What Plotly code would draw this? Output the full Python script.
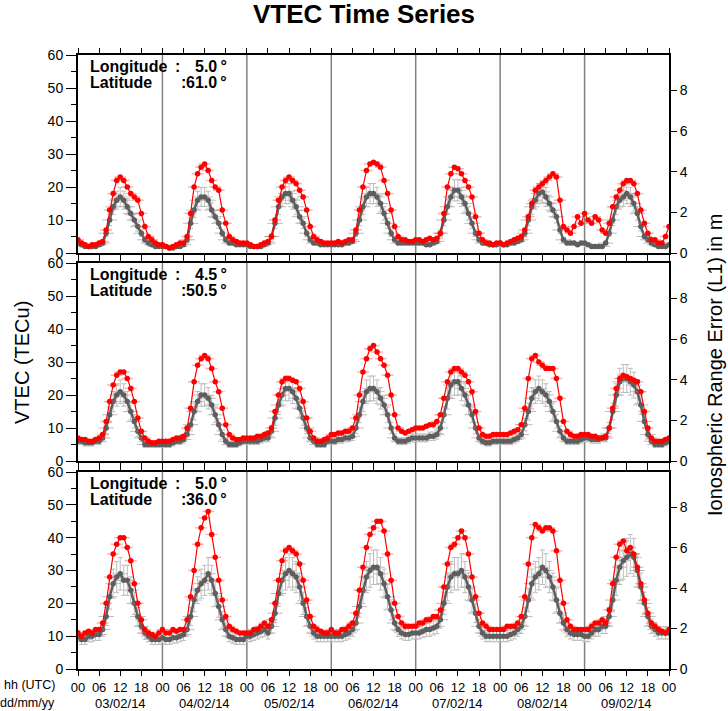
import plotly.graph_objects as go

# ---------------- data ----------------
title_text = "VTEC Time Series"
day_labels = ["03/02/14", "04/02/14", "05/02/14", "06/02/14", "07/02/14", "08/02/14", "09/02/14"]
hour_labels = ["00", "06", "12", "18"]
longitudes = [5.0, 4.5, 5.0]
latitudes = [61.0, 50.5, 36.0]
tecu_to_m = 0.1624          # L1 ionospheric range error (m) per TECu
vtec_range = [0, 60]
range_err_ticks = [0, 2, 4, 6, 8]
day_boundaries = [24, 48, 72, 96, 120, 144]

hours = list(range(0, 169))   # hourly samples, 03/02/14 00 UTC -> 10/02/14 00 UTC

# panel 1 (lat 61.0)
vtec_61 = [
    4, 3, 2.5, 2, 2.5, 2.5, 3, 3.5, 7, 13, 18, 22, 23, 22, 20, 18, 17, 16, 12, 8, 5, 4, 3, 2.5,
    2.5, 2, 1.5, 2, 2.5, 3, 3, 5, 12, 20, 24, 26, 27, 25, 22, 20, 19, 13, 9, 5, 4, 3.5, 3, 3,
    3, 2.5, 2, 2, 2.5, 3, 3.5, 5, 10, 16, 20, 22, 23, 22, 21, 19, 17, 13, 8, 5, 4, 3.5, 3, 3,
    3, 3, 3.5, 3, 3.5, 4, 4, 7, 13, 20, 25, 27, 27.5, 27, 26, 22, 18, 13, 8, 5, 4, 4, 3.5, 3.5,
    4, 4, 3.5, 4, 4.5, 4, 4.5, 6, 12, 20, 24, 26, 25.5, 24, 22, 20, 17, 11, 6, 4, 3, 3, 2.5, 3,
    3, 2.5, 3, 3.5, 4, 4.5, 5, 7, 11, 15, 19, 20, 21, 22, 23, 24, 23, 16, 8, 7, 6, 8, 11, 9,
    12, 10, 9, 11, 10, 7, 6, 9, 14, 17, 19, 21, 22, 22, 21, 18, 13, 9, 6, 4, 4, 3, 3, 5, 8,
]
median_61 = [
    3, 2.5, 2, 2, 2, 2, 2.5, 3, 6, 10, 14, 16, 17, 16, 14, 12, 10, 8, 6, 4, 3, 2.5, 2, 2,
    2, 2, 1.5, 1.5, 2, 2, 2.5, 4, 9, 13, 16, 17, 17, 16, 13, 11, 9, 6, 4, 3, 3, 2.5, 2.5, 2.5,
    2.5, 2, 2, 2, 2, 2.5, 3, 5, 9, 14, 17, 18, 18, 16, 14, 11, 9, 6, 4, 3, 3, 2.5, 2.5, 2.5,
    2.5, 2.5, 2.5, 2.5, 3, 3, 3.5, 6, 10, 14, 17, 18, 18, 17, 15, 12, 9, 6, 4, 3, 3, 3, 3, 3,
    3, 3, 3, 2.5, 2.5, 3, 3.5, 6, 10, 14, 17, 19, 19, 17, 15, 12, 9, 6, 4, 3, 3, 2.5, 2.5, 2.5,
    3, 2.5, 2.5, 3, 3, 3.5, 4, 6, 10, 14, 16, 18, 18.5, 17, 15, 13, 11, 7, 4, 3, 3, 3, 2.5, 3,
    3, 2.5, 2, 2, 2, 2, 3, 6, 10, 14, 16, 17, 18, 17, 15, 12, 8, 5, 4, 3, 2.5, 2, 2, 2, 2.5,
]

# panel 2 (lat 50.5)
vtec_50 = [
    7, 6.5, 6.5, 6, 6, 6.5, 7, 8, 12, 18, 23, 26, 27, 27, 25, 22, 18, 13, 9, 7, 6, 5.5, 5.5, 6,
    6, 6, 6, 6.5, 7, 7, 7.5, 10, 16, 24, 29, 31, 32, 31, 28, 24, 21, 16, 11, 8, 7, 6.5, 6.5, 7,
    7, 7, 7, 7.5, 7.5, 8, 8.5, 10, 15, 20, 24, 25, 25, 24.5, 24, 22, 18, 13, 9, 7, 6, 6, 6.5, 7,
    8, 8, 8.5, 8.5, 9, 9, 10, 13, 20, 27, 31, 34, 35, 33, 31, 29, 26, 20, 14, 10, 9, 8.5, 9, 9.5,
    10, 10, 10, 10.5, 11, 11, 12, 14, 19, 24, 27, 28, 28, 27, 26, 24, 21, 15, 10, 8, 7.5, 7.5, 8, 8,
    8, 8, 8, 8.5, 9, 9.5, 11, 16, 25, 31, 32, 30, 29, 28, 28, 28, 25, 19, 12, 9, 8, 7.5, 7.5, 8,
    8, 8, 7.5, 7.5, 7, 7, 7.5, 10, 16, 22, 25, 26, 25.5, 25, 24.5, 24, 21, 15, 10, 7, 6, 6, 6, 6.5, 7,
]
median_50 = [
    6, 6, 5.5, 5.5, 5.5, 6, 6, 7, 10, 14, 18, 20, 21, 20, 18, 15, 12, 9, 7, 5, 5, 5, 5, 5,
    5, 5, 5, 5.5, 6, 6, 6.5, 8, 11, 15, 18, 20, 20, 19, 17, 14, 11, 8, 6, 5, 5, 5, 5.5, 6,
    6, 6, 6, 6, 6.5, 7, 7, 9, 13, 17, 20, 22, 22, 21, 19, 16, 13, 10, 7, 6, 5, 5, 5, 6,
    6, 6, 6.5, 6.5, 7, 7, 7.5, 10, 14, 18, 21, 22, 22, 21, 19, 17, 14, 10, 7, 6, 6, 6, 6.5, 7,
    7, 7, 7, 7, 7.5, 7.5, 8, 10, 14, 19, 23, 24, 24, 22, 20, 17, 14, 10, 7, 6, 5.5, 5.5, 6, 6,
    6, 6, 6, 6, 6.5, 7, 8, 11, 15, 19, 21, 22, 21, 20, 18, 15, 12, 9, 7, 6, 6, 6, 6, 6.5,
    7, 7, 6.5, 6.5, 6.5, 7, 7, 10, 15, 20, 24, 25, 25, 24, 23, 21, 17, 12, 8, 6, 5, 5, 5, 5.5, 6,
]

# panel 3 (lat 36.0)
vtec_36 = [
    11, 10, 11, 11.5, 11, 12, 12, 14, 20, 28, 35, 38, 40, 40, 37, 33, 26, 20, 15, 12, 11, 10.5, 10, 11,
    12, 11, 11, 12, 11.5, 12, 12, 15, 22, 30, 38, 43, 46, 48, 41, 34, 27, 21, 16, 13, 12, 11.5, 11, 11,
    11, 11, 12, 12, 13, 14, 13, 15, 20, 27, 33, 36, 37, 36, 35, 32, 27, 21, 16, 13, 12, 11.5, 11, 11,
    12, 11, 11, 12, 12, 13, 14, 17, 24, 31, 37, 41, 43, 45, 45, 42, 35, 27, 20, 16, 14, 13, 13, 13,
    13, 14, 14, 15, 15, 16, 16, 18, 25, 32, 37, 38, 40, 42, 40, 35, 28, 22, 17, 14, 13, 12, 12, 12,
    12, 12, 13, 13, 13, 14, 16, 22, 32, 40, 44, 43, 42, 43, 43, 42, 36, 27, 20, 15, 13, 12, 12, 12,
    12, 12, 13, 14, 14, 15, 14, 18, 26, 34, 38, 39, 36, 37, 35, 31, 26, 21, 17, 14, 13, 12, 11.5, 11, 12,
]
median_36 = [
    10, 9, 9, 10, 10, 10.5, 10.5, 12, 16, 22, 26, 28, 29, 27, 27, 24, 20, 16, 13, 11, 10, 9, 9, 9,
    9.5, 9, 9, 9.5, 9.5, 10, 10.5, 12, 16, 21, 24, 26, 27, 29, 27, 23, 19, 15, 12, 10, 9.5, 9, 9, 9,
    10, 10, 10.5, 11, 11.5, 12, 11, 13, 17, 23, 27, 29, 30, 29, 28, 25, 20, 16, 13, 11, 10, 10, 10, 10,
    10, 10, 10, 10, 10.5, 11, 12, 14, 19, 24, 28, 30, 31, 31, 29, 26, 22, 18, 14, 12, 11, 10.5, 10.5, 11,
    11, 11, 11.5, 12, 12, 12.5, 13, 15, 20, 25, 28, 29, 29, 30, 28, 25, 21, 17, 13, 11, 10, 10, 10, 10,
    10, 10, 10, 10.5, 11, 12, 13, 16, 21, 26, 28, 29, 31, 30, 28, 25, 21, 17, 14, 12, 11, 10.5, 10.5, 10.5,
    10, 10, 11, 12, 12, 13, 13, 16, 21, 27, 31, 33, 34, 35, 34, 30, 25, 20, 16, 13, 12, 11, 11, 11, 11,
]

vtec_panels = [vtec_61, vtec_50, vtec_36]
median_panels = [median_61, median_50, median_36]

# ---------------- figure ----------------
FONT = "Liberation Sans, Arial, Helvetica, sans-serif"
W, H = 728, 711
L, R, T, B = 78, 59, 55, 42
plot_h = H - T - B  # 614
panel_px = [(55, 253), (263, 461), (472, 669)]
domains = [[(669 - b) / plot_h, (669 - t) / plot_h] for (t, b) in panel_px]

fig = go.Figure()
layout = dict(
    width=W, height=H, autosize=False,
    margin=dict(l=L, r=R, t=T, b=B, pad=0),
    paper_bgcolor="white", plot_bgcolor="white",
    font=dict(family=FONT, size=14, color="black"),
    showlegend=False,
    title=dict(text="<b>" + title_text + "</b>", x=0.5, xanchor="center",
               y=1 - 14 / H, yanchor="middle", yref="container",
               font=dict(family=FONT, size=26, color="black")),
)

tick_vals = list(range(0, 169, 6))
tick_text = [hour_labels[(v // 6) % 4] for v in tick_vals]

shapes = []
annotations = []

for i in range(3):
    n = i + 1
    xs = "" if n == 1 else str(n)
    xname, yname, yrname = "x" + xs, "y" + xs, "y" + str(n + 3)
    bottom = (i == 2)

    fig.add_trace(go.Scatter(
        x=hours, y=median_panels[i], xaxis=xname, yaxis=yname, mode="lines+markers",
        line=dict(color="#5e5e5e", width=2.5), marker=dict(size=5.5, color="#5e5e5e"),
        error_y=dict(type="percent", value=17, color="#bcbcbc", thickness=1, width=2.5),
        error_x=dict(type="constant", value=2.2, color="#bcbcbc", thickness=1, width=0),
        hoverinfo="skip"))
    fig.add_trace(go.Scatter(
        x=hours, y=vtec_panels[i], xaxis=xname, yaxis=yname, mode="lines+markers",
        line=dict(color="#ff0000", width=1.2), marker=dict(size=5.5, color="#ff0000"),
        error_x=dict(type="constant", value=1.7, color="rgba(255,80,80,0.45)", thickness=1.5, width=0),
        hoverinfo="skip"))
    fig.add_trace(go.Scatter(x=[None], y=[None], xaxis=xname, yaxis=yrname,
                             mode="markers", hoverinfo="skip"))

    layout["xaxis" + xs] = dict(
        domain=[0, 1], anchor=yname, range=[0, 168],
        tickmode="array", tickvals=tick_vals, ticktext=tick_text,
        showticklabels=bottom, ticks="outside", ticklen=5, tickwidth=1, tickcolor="black",
        showline=True, linecolor="black", linewidth=2, mirror="ticks",
        showgrid=False, zeroline=False, tickfont=dict(size=13),
    )
    layout["yaxis" + xs] = dict(
        domain=domains[i], anchor=xname, range=vtec_range,
        tickmode="linear", tick0=0, dtick=10,
        ticks="outside", ticklen=10, tickwidth=1, tickcolor="black",
        minor=dict(dtick=5, ticks="outside", ticklen=5, tickcolor="black", tickwidth=1, showgrid=False),
        showline=True, linecolor="black", linewidth=2,
        showgrid=False, zeroline=False, tickfont=dict(size=14),
    )
    layout["yaxis" + str(n + 3)] = dict(
        overlaying=yname, side="right", anchor=xname,
        range=[vtec_range[0] * tecu_to_m, vtec_range[1] * tecu_to_m],
        tickmode="array", tickvals=range_err_ticks,
        ticks="outside", ticklen=6, tickwidth=1, tickcolor="black",
        showline=True, linecolor="black", linewidth=2,
        showgrid=False, zeroline=False, tickfont=dict(size=14),
    )

    for d in day_boundaries:
        shapes.append(dict(type="line", xref=xname, yref=yname + " domain",
                           x0=d, x1=d, y0=0, y1=1, layer="below",
                           line=dict(color="#808080", width=1.5)))

    # location labels
    rows = [("Longitude", 99, longitudes[i]), ("Latitude", 105, latitudes[i])]
    for r, (lab, colon_dx, val) in enumerate(rows):
        ys = -11 - 16 * r
        annotations.append(dict(text="<b>" + lab + "</b>", xref=xname + " domain", yref=yname + " domain",
                                x=0, y=1, xanchor="left", yanchor="middle", xshift=10, yshift=ys,
                                showarrow=False, font=dict(size=16)))
        annotations.append(dict(text="<b>:</b>", xref=xname + " domain", yref=yname + " domain",
                                x=0, y=1, xanchor="center", yanchor="middle", xshift=colon_dx, yshift=ys,
                                showarrow=False, font=dict(size=16)))
        annotations.append(dict(text="<b>%.1f\u2009°</b>" % val, xref=xname + " domain", yref=yname + " domain",
                                x=0, y=1, xanchor="right", yanchor="middle", xshift=151, yshift=ys,
                                showarrow=False, font=dict(size=16)))

# date labels under the bottom axis
for k, lab in enumerate(day_labels):
    annotations.append(dict(text=lab, xref="x3", yref="paper", x=12 + 24 * k, y=0,
                            xanchor="center", yanchor="middle", yshift=-34,
                            showarrow=False, font=dict(size=13)))
annotations.append(dict(text="hh (UTC)", xref="paper", yref="paper", x=0, y=0, xanchor="right",
                        yanchor="middle", xshift=-21, yshift=-16, showarrow=False, font=dict(size=12.5)))
annotations.append(dict(text="dd/mm/yy", xref="paper", yref="paper", x=0, y=0, xanchor="right",
                        yanchor="middle", xshift=-21, yshift=-34, showarrow=False, font=dict(size=12.5)))

# axis titles
annotations.append(dict(text="VTEC (TECu)", xref="paper", yref="paper", x=0, y=(669 - 363) / plot_h,
                        xanchor="center", yanchor="middle", xshift=22 - L, textangle=-90,
                        showarrow=False, font=dict(size=20)))
annotations.append(dict(text="Ionospheric Range Error (L1) in m", xref="paper", yref="paper", x=1,
                        y=(669 - 365) / plot_h, xanchor="center", yanchor="middle", xshift=715 - (W - R),
                        textangle=-90, showarrow=False, font=dict(size=20)))

layout["shapes"] = shapes
layout["annotations"] = annotations
fig.update_layout(**layout)
# the page's default 8px body margin would shift the fixed-size figure; remove it
fig.write_html("out.html", config={"displayModeBar": False},
               post_script="document.body.style.margin='0px';")
